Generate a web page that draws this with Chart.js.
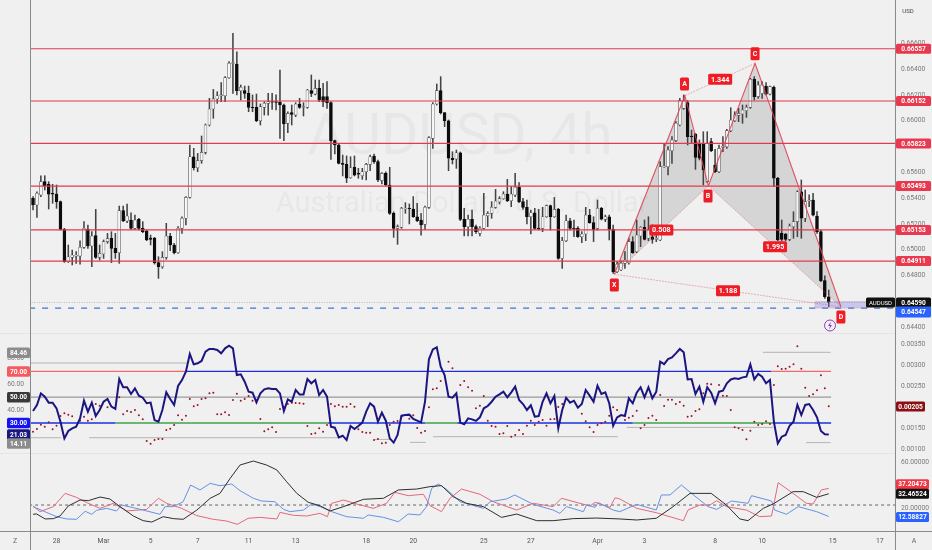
<!DOCTYPE html>
<html>
<head>
<meta charset="utf-8">
<title>AUDUSD, 4h</title>
<style>
  html, body { margin: 0; padding: 0; background: #f0f0f0; overflow: hidden; }
  canvas { display: block; }
</style>
<script src="https://cdn.jsdelivr.net/npm/chart.js@4/dist/chart.umd.js"></script>
</head>
<body>
<canvas id="myChart" width="932" height="550"></canvas>
<script>
'use strict';

// ********** candles, in 1/100000 of a dollar **********
let opens = [
  65398,65346,65424,65527,65506,65437,65431,65372,65157,64907,
  64940,64950,64950,65018,65157,65028,65108,64940,64966,65062,
  65087,65010,64976,65302,65222,65230,65165,65235,65165,65144,
  65090,65090,64899,64868,64940,65106,65036,64976,65165,65243,
  65405,65720,65635,65690,65754,65966,66090,66168,66191,66193,
  66333,66444,66439,66232,66232,66211,66103,66103,65999,66103,
  66134,66147,66147,66142,66121,65979,66062,66043,66129,66103,
  66103,66232,66206,66250,66186,66186,66139,65845,65811,65669,
  65661,65558,65638,65591,65573,65604,65661,65726,65682,65535,
  65591,65501,65281,65165,65173,65315,65320,65315,65255,65230,
  65196,65328,65863,66129,66232,66062,65999,65708,65702,65751,
  65235,65178,65235,65178,65126,65165,65263,65281,65328,65369,
  65395,65431,65379,65424,65483,65372,65328,65255,65286,65168,
  65165,65255,65341,65255,65312,64932,65069,65224,65168,65165,
  65100,65121,65268,65209,65165,65320,65235,65255,65157,64829,
  64842,64894,64899,65062,64984,65106,65173,65088,65100,65080,
  65075,65643,65643,65767,65845,65966,66095,66139,65881,65896,
  65824,65824,65527,65837,65656,65604,65793,65798,65922,65999,
  66041,66051,66077,66103,66320,66186,66211,66268,66206,66258,
  65553,65126,65121,65080,65178,65217,65449,65243,65380,65385,
  65261,65139,64760,64635
];
let highs = [
  65411,65449,65573,65573,65527,65506,65501,65377,65165,65036,
  64997,64984,65069,65217,65191,65139,65312,65036,65075,65126,
  65139,65126,65338,65338,65354,65286,65268,65243,65217,65152,
  65113,65095,64945,64984,65204,65126,65049,65178,65255,65411,
  65811,65785,65746,65881,65974,66173,66242,66224,66294,66341,
  66457,66677,66534,66276,66268,66268,66199,66206,66129,66147,
  66211,66211,66199,66392,66129,66069,66121,66139,66173,66139,
  66242,66354,66315,66315,66289,66302,66147,65850,65819,65733,
  65726,65720,65726,65630,65630,65669,65733,65741,65695,65597,
  65604,65638,65292,65191,65328,65364,65354,65411,65359,65281,
  65338,65876,66139,66284,66341,66062,66005,65759,65772,65757,
  65320,65268,65307,65191,65178,65437,65294,65372,65467,65411,
  65449,65545,65488,65591,65519,65398,65385,65307,65320,65312,
  65328,65346,65346,65405,65320,65095,65268,65243,65230,65178,
  65139,65328,65312,65255,65385,65328,65268,65268,65191,64907,
  64914,64984,65088,65100,65230,65178,65230,65255,65191,65165,
  65682,65824,65798,65876,65992,66173,66199,66155,65927,65901,
  65850,65914,65914,65863,65777,65811,65876,65932,66100,66069,
  66095,66121,66121,66328,66341,66302,66302,66294,66268,66268,
  65560,65230,65126,65199,65294,65457,65540,65462,65424,65437,
  65294,65152,64796,64687
];
let lows = [
  65307,65250,65411,65462,65315,65359,65320,65152,64901,64901,
  64881,64894,64888,65010,65010,64868,64932,64919,64932,65049,
  64899,64932,64894,65217,65209,65157,65157,65152,65131,65069,
  65036,64888,64777,64855,64925,64992,64966,64971,65126,65191,
  65398,65617,65604,65669,65741,65958,66018,66134,66147,66147,
  66328,66211,66199,66160,66173,66069,66069,65992,65966,66043,
  66043,66087,66082,65863,65845,65907,65966,66031,66095,66036,
  66095,66186,66199,66147,66108,66095,65700,65741,65664,65571,
  65519,65553,65571,65553,65545,65540,65612,65669,65527,65509,
  65493,65273,65095,65041,65165,65281,65199,65250,65217,65113,
  65157,65320,65785,66121,66051,65953,65612,65664,65630,65225,
  65106,65106,65106,65126,65106,65157,65178,65243,65320,65354,
  65390,65372,65333,65411,65364,65312,65199,65121,65157,65152,
  65139,65250,65152,65250,64925,64855,65062,65152,65100,65095,
  65054,65069,65204,65062,65152,65230,65217,65075,64816,64821,
  64837,64855,64888,64971,64976,65023,65075,65069,65049,65062,
  65069,65638,65579,65669,65837,65958,66087,65811,65824,65622,
  65695,65501,65519,65759,65596,65596,65759,65785,65914,65992,
  65992,65979,66025,66095,66160,66173,66173,66199,66199,65488,
  65069,65069,65069,65069,65088,65100,65088,65217,65333,65261,
  65126,64752,64622,64558
];
let closes = [
  65346,65437,65527,65493,65429,65429,65372,65157,64907,64945,
  64958,64958,65018,65165,65028,65106,64940,64971,65062,65085,
  65010,64976,65302,65222,65261,65165,65230,65165,65139,65075,
  65080,64899,64868,64940,65106,65036,64976,65165,65243,65405,
  65720,65635,65690,65754,65966,66090,66168,66193,66199,66333,
  66444,66449,66232,66258,66211,66103,66100,65999,66108,66134,
  66147,66144,66142,66121,65974,66056,66049,66129,66103,66108,
  66237,66211,66250,66160,66147,66139,65845,65811,65669,65661,
  65553,65635,65578,65584,65604,65661,65720,65682,65540,65591,
  65501,65281,65165,65178,65320,65320,65317,65255,65225,65191,
  65328,65868,66129,66232,66062,65999,65708,65697,65751,65235,
  65178,65235,65178,65139,65165,65268,65281,65328,65377,65395,
  65431,65379,65431,65483,65372,65328,65255,65286,65165,65163,
  65255,65341,65255,65312,64932,65069,65224,65165,65163,65100,
  65121,65268,65209,65152,65320,65237,65255,65157,64829,64886,
  64894,64919,65062,64976,65113,65173,65080,65152,65080,65088,
  65643,65648,65772,65850,65979,66155,66155,65876,65876,65715,
  65708,65617,65824,65767,65604,65785,65803,65922,66005,66043,
  66056,66082,66103,66320,66186,66276,66276,66206,66263,65553,
  65075,65080,65080,65183,65217,65449,65243,65372,65385,65268,
  65139,64760,64635,64590
];

// ********** RSI and the red dots (dots in 1/1000000) **********
let rsiValues = [
  39.3,44.0,53.0,50.4,45.8,45.8,41.4,31.0,18.1,23.8,
  25.9,27.2,33.6,47.3,38.8,45.8,35.4,40.1,46.5,48.6,
  42.7,40.9,64.1,57.7,57.7,52.5,56.9,51.2,49.6,45.3,
  45.8,32.3,31.0,40.1,53.8,48.6,44.0,58.7,63.3,69.8,
  83.5,75.5,76.3,78.1,85.3,87.4,87.4,86.6,84.0,87.9,
  90.0,87.9,67.2,67.7,62.0,54.3,53.5,46.0,53.0,56.1,
  56.9,56.4,56.4,53.0,39.3,48.3,46.5,55.6,52.2,52.2,
  64.1,60.8,63.3,51.7,55.6,50.4,27.2,26.4,18.9,20.2,
  16.8,27.7,25.4,27.7,30.3,38.8,45.3,42.7,31.0,38.0,
  31.8,18.1,14.8,20.7,35.7,36.2,36.5,33.1,31.8,30.5,
  46.5,79.4,87.1,88.7,73.7,67.2,50.4,49.6,53.0,30.3,
  29.0,33.6,32.8,31.6,34.4,41.4,43.2,46.5,50.4,52.2,
  54.3,49.9,53.8,58.2,47.8,44.7,40.1,43.7,34.9,35.4,
  46.5,53.0,45.3,50.9,25.9,40.1,49.6,45.8,47.3,41.9,
  44.7,55.6,51.2,46.5,58.9,52.5,53.8,45.3,27.9,34.4,
  36.2,35.4,49.1,45.3,53.5,57.7,49.9,57.7,49.1,54.3,
  77.6,75.7,79.6,80.9,84.0,87.4,84.8,63.8,64.1,52.5,
  58.2,46.5,57.7,53.5,45.3,54.3,55.1,60.8,63.8,64.6,
  64.1,65.4,65.9,75.5,63.8,68.0,65.9,60.8,63.3,31.0,
  14.2,19.4,20.7,27.9,31.0,44.0,36.2,44.0,44.7,40.1,
  34.4,23.8,21.2,21.03
];
let dotValues = [
  1422,1486,1589,1542,1645,1478,1565,1797,1860,1829,
  1789,null,1685,1781,1685,1717,2084,2044,null,2004,
  null,null,2243,1837,1916,1892,1940,1813,1717,1199,
  1135,1223,1246,1246,1462,1494,1581,1813,1709,1805,
  2203,2028,2060,2203,2219,2339,2355,1837,1837,1884,
  1821,2179,2331,2163,2203,2275,2163,2179,1725,1430,
  1478,1526,1414,1964,2020,2084,2116,2108,2100,2092,
  1558,1366,1382,1502,1422,1581,2084,2028,2060,2020,
  2020,2084,2020,1478,1414,1398,1398,1223,1246,1143,
  1159,1581,1661,1677,1781,null,1733,1813,1510,1398,
  1438,2004,2435,2459,2634,null,3096,2937,null,2538,
  2634,2482,2403,1980,2044,2275,1685,1558,1542,1366,
  1382,1558,1302,1342,1462,1366,1565,1685,1581,1661,
  1701,1565,1717,1725,2012,2084,null,null,null,null,
  1853,1669,1526,1414,1581,1621,1661,1805,2004,1940,
  null,1701,1757,1797,1924,1502,1581,1749,1805,1701,
  2299,2036,2187,2187,2084,2132,2044,1781,1797,1916,
  1956,2339,2570,2554,null,2538,2283,2275,1940,1526,
  1502,1462,1238,1446,1661,1581,1605,1669,1605,2538,
  2985,2921,2929,2977,3033,3463,2929,2474,2275,2315,
  2411,2770,2459,2028
];

// ********** bottom panel, read at the bends of each line **********
let adxBars = [0,0.9,3.1,5.2,6.9,9,12,14.1,17.1,19.6,22.2,25.6,28.1,30.3,33.2,35.8,38.3,41.8,45.2,47.7,50.3,52.8,56.2,59.6,62.2,64.7,67.3,70.2,73.2,75.8,79.2,84.3,89.4,93.2,97.9,101.3,104.2,107.2,110.6,114.9,119.5,123.4,128.5,132.7,137.8,143.8,149.7,154,159,163.3,167.6,173,176.9,180.3,182.4,186.3,188.8,193.9,196.5,199.9,203];
let adxValues = [14.5,14.8,10.4,10.7,13.0,21.8,27.0,26.4,29.6,27.9,21.2,13.0,8.9,7.7,12.4,10.7,10.1,18.2,28.5,32.8,46.0,57.6,61.1,57.6,53.3,43.0,32.8,25.0,22.0,17.4,21.2,27.6,28.5,35.8,36.6,38.7,39.6,29.9,24.1,21.2,11.8,14.7,8.9,8.9,10.7,11.2,10.4,9.5,11.0,21.2,32.8,32.8,22.6,10.4,8.9,19.7,23.5,34.3,34.3,29.3,32.47];
let plusBars = [0,1.8,5.2,8.2,11.1,13.7,17.1,20.5,23.9,29,32,34.1,37.9,41.8,46,49.4,52.1,54.9,57.9,62.2,63,66.4,69.8,73.2,75.1,76.2,79.2,82.6,86.8,90.2,92.3,95.7,99.6,101.3,104.2,106.4,109.3,114,117.4,123.4,127.6,132.7,134.8,139.5,142.1,143.4,147.2,148.5,149.7,154,159,165.9,167.1,170.1,172.7,174.4,176.9,182,185.4,188.4,190.1,193.9,197.3,199,201.1,203];
let plusValues = [21.8,16.8,21.2,32.8,29.3,24.7,19.7,24.1,17.4,18.8,28.5,24.1,19.7,13.3,10.1,8.6,5.7,11.0,11.8,10.4,16.2,13.6,13.0,15.3,12.4,24.1,27.0,23.5,19.7,24.1,33.7,30.8,32.0,22.0,16.8,28.5,36.6,32.0,25.5,18.2,24.1,21.2,28.5,24.1,21.8,25.0,20.6,29.0,27.9,19.7,15.9,8.9,18.2,22.6,22.6,26.4,21.2,18.2,12.4,13.0,42.2,32.8,24.1,23.5,35.8,37.2];
let minusBars = [0,2.6,6,8.6,11.1,13.3,15,16.2,18.8,21.3,22.6,25.6,29,32.4,33.7,35.8,38.3,40.2,42.6,45.2,47.7,50.7,52.8,56.2,58.3,61.7,63.9,65.6,69,71.1,73.2,76.2,80,84.3,85.5,89.4,93.2,95.7,98.7,100.4,101.7,103.4,105.5,108.9,114.9,116.6,120.8,122.9,127.6,132.7,134.4,136.1,140.4,141.2,143.4,144.2,148,149.7,154,159,160.3,162.5,165.4,168,172.2,174.4,178.2,182.4,183.3,188.4,189.2,192.2,195.2,199.9,203];
let minusValues = [21.2,17.4,12.4,10.4,10.1,17.1,14.5,18.0,19.7,17.4,22.6,20.3,17.4,14.5,21.2,21.2,25.5,40.1,35.8,41.6,39.5,41.0,35.2,28.5,26.1,25.5,18.8,16.8,18.2,23.5,21.2,16.8,12.4,11.0,13.9,11.8,8.0,14.7,13.9,21.2,37.2,41.0,36.3,25.5,19.7,25.5,27.9,31.4,23.2,18.2,15.3,21.2,16.8,22.6,20.6,24.7,18.2,16.8,23.2,18.2,31.4,31.4,40.1,32.8,21.2,18.8,26.1,24.1,30.8,26.1,18.2,14.5,21.2,16.8,12.59];
let dmiMiddle = 22.6;

// ********** price levels and the harmonic pattern **********
let levelPrices = [0.66557, 0.66152, 0.65823, 0.65493, 0.65153, 0.64911];
let lastPrice = 0.6459;
let limitPrice = 0.64547;
let patternBars = [148.3, 166.3, 172.3, 184.2, 206.1];
let patternPrices = [0.64809, 0.66193, 0.65495, 0.66444, 0.64557];
let zoneBars = [199.5, 212.7];
let zonePrices = [0.64597, 0.64547];

let tagTexts = ['X', 'A', 'B', 'C', 'D', '1.344', '0.508', '1.995', '1.188'];
let tagBars = [148.3, 166.2, 172.2, 184.2, 206.1, 175.3, 160.3, 189.3, 177.3];
let tagPrices = [0.64726, 0.66284, 0.65415, 0.66519, 0.64477, 0.6632, 0.65152, 0.65022, 0.64681];

// ********** oscillator bands, as from bar / to bar / level **********
let bandFrom = [-1, 39, 188.3, -1, -1, 21, 75.3, 100, 108.2, 153, 188.8];
let bandTo = [39, 188.3, 203.6, 203.6, 21, 75.3, 100, 108.2, 153, 188.8, 203.6];
let bandLevels = [70, 70, 70, 50, 30, 30, 30, 30, 30, 30, 30];
let bandKinds = ['hot', 'blue', 'hot', 'mid', 'blue', 'green', 'blue', 'green', 'blue', 'green', 'blue'];

let rangeFrom = [-0.7, -0.5, 14.3, 87.2, 96.2, 102, 151.5, 186.2, 197.2];
let rangeTo = [39.3, 7.1, 78.8, 91.6, 100.2, 149.2, 188.8, 203.5, 203.5];
let rangeLevels = [76.5, 18.6, 18.6, 17.3, 15, 19.4, 26.6, 84.8, 14.8];

// ********** axes **********
let dayBars = [6, 18, 30, 42, 55, 67, 85, 97, 115, 127, 144, 156, 174, 186, 204, 216];
let dayLabels = ['28', 'Mar', '5', '7', '11', '13', '18', '20', '25', '27', 'Apr', '3', '8', '10', '15', '17'];
let priceTicks = [0.644, 0.646, 0.648, 0.65, 0.652, 0.654, 0.656, 0.658, 0.66, 0.662, 0.664, 0.666];
let rsiTicks = [80, 60, 40];
let dotTicks = [0.0035, 0.003, 0.0025, 0.002, 0.0015, 0.001];
let dmiTicks = [60, 20];

let rsiTags = [84.46, 70, 50, 30, 21.03, 14.11];
let dmiTags = [37.20473, 32.46524, 12.58827];
let dotTag = 0.00205;

const FONT = 'Roboto, "Liberation Sans", sans-serif';
const LEVEL_RED = '#e23a50';
const TICK_GREY = '#7a7a7a';
const bandColors = { hot: '#f46a6a', blue: '#1c2fe0', mid: '#9a9a9a', green: '#3fa34d' };

const bars = opens.map(function (o, i) { return i; });

function pips(v) {
  return v / 100000;
}

function segment(x0, x1, y) {
  return [{ x: x0, y: y }, { x: x1, y: y }];
}

// fixed axis sizes so the panels land where the reference has them
function fixWidth(w) {
  return function (scale) {
    scale.width = w;
    scale.paddingTop = 0;
    scale.paddingBottom = 0;
  };
}

function tickList(list) {
  return function (scale) {
    scale.ticks = list.map(function (v) { return { value: v }; });
  };
}

let datasets = [];

function addLine(points, yAxisID, color, width, order, extra) {
  datasets.push(Object.assign({
    type: 'line',
    data: points,
    yAxisID: yAxisID,
    borderColor: color,
    borderWidth: width,
    pointRadius: 0,
    tension: 0,
    fill: false,
    order: order
  }, extra || {}));
}

function byBar(barList, values) {
  return values.map(function (v, i) { return { x: barList[i], y: v }; });
}

// pattern fill, under the candles
function pt(i) {
  return { x: patternBars[i], y: patternPrices[i] };
}
addLine([pt(0), pt(1), pt(2), pt(0)], 'yPrice', 'rgba(0,0,0,0)', 0, 30,
  { fill: 'shape', backgroundColor: 'rgba(105,105,105,0.2)' });
addLine([pt(2), pt(3), pt(4), pt(2)], 'yPrice', 'rgba(0,0,0,0)', 0, 30,
  { fill: 'shape', backgroundColor: 'rgba(105,105,105,0.2)' });

// wicks and bodies
datasets.push({
  type: 'bar',
  yAxisID: 'yPrice',
  data: bars.map(function (i) { return { x: i, y: [pips(lows[i]), pips(highs[i])] }; }),
  backgroundColor: '#444444',
  barThickness: 0.9,
  grouped: false,
  order: 22
});
datasets.push({
  type: 'bar',
  yAxisID: 'yPrice',
  data: bars.map(function (i) { return { x: i, y: [pips(opens[i]), pips(closes[i])] }; }),
  backgroundColor: bars.map(function (i) { return closes[i] >= opens[i] ? '#f6f6f6' : '#0c0c0c'; }),
  borderColor: bars.map(function (i) { return closes[i] >= opens[i] ? '#555555' : '#0c0c0c'; }),
  borderWidth: 0.6,
  borderSkipped: false,
  barThickness: 2.9,
  grouped: false,
  order: 21
});

// levels
levelPrices.forEach(function (p) {
  addLine(segment(-1, 221, p), 'yPrice', LEVEL_RED, 1.2, 12);
});
addLine(segment(-1, 221, lastPrice), 'yPrice', '#a8a8a8', 0.8, 13, { borderDash: [1, 1.5] });
addLine(segment(-1, 221, limitPrice), 'yPrice', '#3c74d6', 1.2, 13, { borderDash: [6, 7] });
addLine([
  { x: zoneBars[0], y: zonePrices[0] }, { x: zoneBars[1], y: zonePrices[0] },
  { x: zoneBars[1], y: zonePrices[1] }, { x: zoneBars[0], y: zonePrices[1] },
  { x: zoneBars[0], y: zonePrices[0] }
], 'yPrice', 'rgba(200,120,170,0.5)', 0.6, 11, { fill: 'shape', backgroundColor: 'rgba(110,110,225,0.3)' });

// pattern edges
addLine([pt(0), pt(1), pt(2), pt(3), pt(4)], 'yPrice', 'rgba(222,66,82,0.9)', 1.1, 10);
[[0, 2], [1, 3], [2, 4], [0, 4]].forEach(function (e) {
  addLine([pt(e[0]), pt(e[1])], 'yPrice', 'rgba(226,80,92,0.55)', 0.8, 10, { borderDash: [2, 1] });
});

// oscillator panel
rangeLevels.forEach(function (v, i) {
  addLine(segment(rangeFrom[i], rangeTo[i], v), 'yRsi', '#b4b4b4', 1, 9);
});
bandLevels.forEach(function (v, i) {
  addLine(segment(bandFrom[i], bandTo[i], v), 'yRsi', bandColors[bandKinds[i]], v === 50 ? 1.2 : 1.3, 8);
});
datasets.push({
  type: 'line',
  yAxisID: 'yDots',
  data: byBar(bars, dotValues.map(function (v) { return v === null ? null : v / 1000000; })),
  showLine: false,
  pointRadius: 1,
  pointBackgroundColor: '#9b1424',
  pointBorderWidth: 0,
  order: 7
});
addLine(byBar(bars, rsiValues), 'yRsi', '#1b1580', 2, 6);

// bottom panel
addLine(segment(-1, 221, dmiMiddle), 'yDmi', '#555555', 0.9, 5, { borderDash: [3, 3] });
addLine(byBar(plusBars, plusValues), 'yDmi', '#e4687c', 1, 4);
addLine(byBar(minusBars, minusValues), 'yDmi', '#6691e2', 1, 3);
addLine(byBar(adxBars, adxValues), 'yDmi', '#2e2e2e', 1, 2);

// ********** things the library has no mark for **********
function tag(ctx, text, cx, cy, w, h, bg, color, font) {
  ctx.fillStyle = bg;
  ctx.beginPath();
  ctx.roundRect(cx - w / 2, cy - h / 2, w, h, 1.5);
  ctx.fill();
  ctx.fillStyle = color;
  ctx.font = font;
  ctx.textAlign = 'center';
  ctx.textBaseline = 'middle';
  ctx.fillText(text, cx, cy + 0.5);
}

const backdrop = {
  id: 'backdrop',
  beforeDraw(chart) {
    const ctx = chart.ctx;
    ctx.save();
    ctx.fillStyle = '#f0f0f0';
    ctx.fillRect(0, 0, chart.width, chart.height);
    ctx.restore();
  },
  beforeDatasetsDraw(chart) {
    const ctx = chart.ctx;
    ctx.save();
    ctx.fillStyle = 'rgba(0,0,0,0.035)';
    ctx.textAlign = 'center';
    ctx.textBaseline = 'middle';
    ctx.font = '57px ' + FONT;
    ctx.fillText('AUDUSD, 4h', 460, 140);
    ctx.font = '29px ' + FONT;
    ctx.fillText('Australian Dollar / U.S. Dollar', 462, 205);
    ctx.restore();
  }
};

const frame = {
  id: 'frame',
  afterDraw(chart) {
    const ctx = chart.ctx;
    const s = chart.scales;
    const area = chart.chartArea;
    ctx.save();

    ctx.fillStyle = '#e4e4e4';
    ctx.fillRect(0, 333, area.right, 1);
    ctx.fillRect(0, 453, area.right, 1);
    ctx.fillStyle = '#8a8a8a';
    ctx.fillRect(area.left, 0, 1, chart.height);
    ctx.fillRect(area.right, 0, 1, chart.height);
    ctx.fillRect(0, area.bottom, chart.width, 1);

    // the two hidden right axes still get their tick labels
    ctx.fillStyle = TICK_GREY;
    ctx.font = '6.7px ' + FONT;
    ctx.textAlign = 'left';
    ctx.textBaseline = 'middle';
    dotTicks.forEach(function (v) {
      ctx.fillText(v.toFixed(5), area.right + 6, s.yDots.getPixelForValue(v));
    });
    dmiTicks.forEach(function (v) {
      ctx.fillText(v.toFixed(5), area.right + 6, s.yDmi.getPixelForValue(v));
    });

    // badges on the price axis
    const badge = 'bold 6.6px ' + FONT;
    levelPrices.forEach(function (p) {
      const y = s.yPrice.getPixelForValue(p);
      tag(ctx, p.toFixed(5), 913.5, y, 35, 10, '#e8394f', '#ffffff', badge);
    });
    const lastY = s.yPrice.getPixelForValue(lastPrice);
    tag(ctx, 'AUDUSD', 880.5, lastY, 29, 10, '#111111', '#ffffff', '6px ' + FONT);
    tag(ctx, lastPrice.toFixed(5), 913.5, lastY, 35, 10, '#111111', '#ffffff', badge);
    tag(ctx, limitPrice.toFixed(5), 913.5, s.yPrice.getPixelForValue(limitPrice) + 4, 35, 11, '#2962ff', '#ffffff', badge);

    // badges on the oscillator axes
    const rsiColors = ['#8c8c8c', '#f55a5f', '#3a3a3a', '#1414ee', '#1c1680', '#8c8c8c'];
    rsiTags.forEach(function (v, i) {
      tag(ctx, v.toFixed(2), 18.5, s.yRsi.getPixelForValue(v), 23, 10.5, rsiColors[i], '#ffffff', badge);
    });
    tag(ctx, dotTag.toFixed(5), 910.5, s.yDots.getPixelForValue(dotTag) + 1, 29, 10, '#8b0f12', '#ffffff', badge);

    const dmiColors = ['#f23645', '#111111', '#2962ff'];
    const dmiNudge = [-4, 0, 0.5];
    dmiTags.forEach(function (v, i) {
      tag(ctx, v.toFixed(5), 912.5, s.yDmi.getPixelForValue(v) + dmiNudge[i], 33, 10, dmiColors[i], '#ffffff', badge);
    });

    // pattern letters and ratios
    tagTexts.forEach(function (t, i) {
      const x = s.x.getPixelForValue(tagBars[i]);
      const y = s.yPrice.getPixelForValue(tagPrices[i]);
      if (t.length === 1) {
        tag(ctx, t, x, y, 9, 13, '#ee1c25', '#ffffff', 'bold 7px ' + FONT);
      } else {
        tag(ctx, t, x, y, 24, 11, '#ee1c25', '#ffffff', 'bold 7.2px ' + FONT);
      }
    });

    // lightning mark
    ctx.strokeStyle = '#8e3fc4';
    ctx.lineWidth = 1;
    ctx.beginPath();
    ctx.arc(830, 325.5, 5.5, 0, Math.PI * 2);
    ctx.stroke();
    ctx.fillStyle = '#8e3fc4';
    ctx.beginPath();
    ctx.moveTo(831, 321.5);
    ctx.lineTo(828, 326);
    ctx.lineTo(830, 326);
    ctx.lineTo(829, 329.5);
    ctx.lineTo(832, 325);
    ctx.lineTo(830, 325);
    ctx.closePath();
    ctx.fill();

    ctx.textAlign = 'center';
    ctx.textBaseline = 'middle';
    ctx.fillStyle = '#444444';
    ctx.font = '6px ' + FONT;
    ctx.fillText('USD', 908, 11);
    ctx.fillStyle = '#666666';
    ctx.font = '7px ' + FONT;
    ctx.fillText('Z', 15, 541);
    ctx.fillText('A', 914, 541);
    ctx.restore();
  }
};

function axisTicks(format) {
  return {
    color: TICK_GREY,
    font: { family: FONT, size: 6.7 },
    padding: 6,
    autoSkip: false,
    callback: format
  };
}

function hiddenParts() {
  return { grid: { display: false, drawTicks: false }, border: { display: false } };
}

new Chart(document.getElementById('myChart').getContext('2d'), {
  type: 'bar',
  data: { datasets: datasets },
  plugins: [backdrop, frame],
  options: {
    responsive: false,
    animation: false,
    events: [],
    devicePixelRatio: 1,
    layout: { autoPadding: false, padding: 0 },
    plugins: { legend: { display: false }, tooltip: { enabled: false } },
    scales: {
      x: Object.assign(hiddenParts(), {
        type: 'linear',
        offset: false,
        min: -0.77,
        max: 219.9,
        afterBuildTicks: tickList(dayBars),
        afterFit(scale) {
          scale.height = 19;
          scale.paddingLeft = 0;
          scale.paddingRight = 0;
        },
        ticks: {
          color: '#555555',
          font: { family: FONT, size: 6.8 },
          padding: 6,
          autoSkip: false,
          maxRotation: 0,
          callback(v, i) { return dayLabels[i]; }
        }
      }),
      yRsi: Object.assign(hiddenParts(), {
        position: 'left',
        min: -53.7,
        max: 357.9,
        afterBuildTicks: tickList(rsiTicks),
        afterFit: fixWidth(30),
        ticks: axisTicks(function (v) { return v.toFixed(2); })
      }),
      yDots: { display: false, min: -0.000955, max: 0.011749 },
      yDmi: { display: false, min: -0.13, max: 464.6 },
      yPrice: Object.assign(hiddenParts(), {
        position: 'right',
        min: 0.62819,
        max: 0.66935,
        afterBuildTicks: tickList(priceTicks),
        afterFit: fixWidth(37),
        ticks: axisTicks(function (v) { return v.toFixed(5); })
      })
    }
  }
});
</script>
</body>
</html>
